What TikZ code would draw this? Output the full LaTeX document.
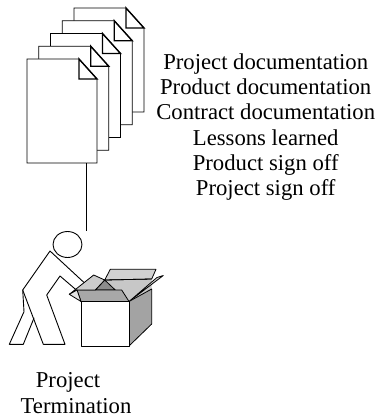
\documentclass[tikz,border=0pt]{standalone}
\usepackage{fontspec}
\setmainfont{Liberation Serif}
\begin{document}
\begin{tikzpicture}[x=1pt,y=-1pt,
  docsheet/.style={draw=black, fill=white, line width=0.8pt, line join=miter},
  docfold/.style={draw=black, line width=1.4pt, line join=miter},
  stick/.style={draw=black, line width=0.9pt, line join=round, line cap=round},
  boxpart/.style={draw=black, line width=0.8pt, line join=round},
  caption/.style={font=\fontsize{22.7}{25}\selectfont, inner sep=0pt, anchor=base},
  link/.style={draw=black, line width=0.9pt}
]
\useasboundingbox (0,0) rectangle (376,417);

% stack of five documents, drawn back to front
\foreach \i in {4,3,2,1,0}{
  \pgfmathsetmacro\L{27+11.75*\i}
  \pgfmathsetmacro\T{59-12.75*\i}
  \draw[docsheet] (\L,\T) -- (\L+52,\T) -- (\L+70,\T+20) -- (\L+70,\T+104)
        -- (\L,\T+104) -- cycle;
  \draw[docfold] (\L+52,\T) -- (\L+70,\T+20) -- (\L+52,\T+20) -- cycle;
}

% list of deliverables
\node[caption] (l1) at (265.7,69.3)  {Project documentation};
\node[caption] (l2) at (265.7,94.6)  {Product documentation};
\node[caption] (l3) at (265.7,119.9) {Contract documentation};
\node[caption] (l4) at (265.7,145.2) {Lessons learned};
\node[caption] (l5) at (265.7,170.5) {Product sign off};
\node[caption] (l6) at (265.7,195.8) {Project sign off};

% connector from the documents down to the worker
\coordinate (docfoot) at (86,163);
\coordinate (linkend) at (86,231);
\draw[link] (docfoot) -- (linkend);

% worker: head, body and arms
\draw[stick] (67.5,244.5) ellipse [x radius=14.5, y radius=13];
\draw[stick] (84,282.5) -- (50,251) -- (22.7,290) -- (24,311.7) -- (9.3,344.3)
      -- (23.3,344.3) -- (34,318);
\draw[stick] (22.7,290) -- (43.3,344.3) -- (65,344.3) -- (46.7,295) -- (60,276)
      -- (75.5,289.3);

% open cardboard box
\fill[fill=black!22] (104.7,279) -- (151.7,279) -- (151.7,289) -- (129,301.5)
      -- (121.7,290) -- (95.3,290) -- cycle;
\draw[boxpart, fill=black!18] (104.7,280) -- (110.3,269.3) -- (156,269.3)
      -- (151.7,279) -- cycle;
\draw[boxpart] (104.7,280) -- (151.7,279);
\draw[boxpart, fill=black!45] (95.3,290) -- (104.7,280) -- (115.3,290) -- cycle;
\draw[boxpart, fill=black!34] (77,290) -- (121.7,290) -- (129,301.5) -- (81,301.5) -- cycle;
\draw[boxpart, fill=black!20] (69.3,294.3) -- (93.7,275) -- (104.7,280) -- (95.3,290)
      -- (77,290) -- cycle;
\draw[boxpart, fill=black!10] (69.3,294.3) -- (77,290) -- (81,301.5) -- cycle;
\draw[boxpart, fill=black!36] (129,301.5) -- (151.7,289) -- (151.7,324) -- (129,346) -- cycle;
\draw[boxpart, fill=black!16] (129,301.5) -- (163.3,275.5) -- (157,277.5) -- (151.7,282) -- cycle;
\draw[boxpart, fill=white] (81,301.5) rectangle (129,346);

% caption under the worker
\node[caption] (t1) at (68,387.5) {Project};
\node[caption] (t2) at (76,413) {Termination};
\end{tikzpicture}
\end{document}
